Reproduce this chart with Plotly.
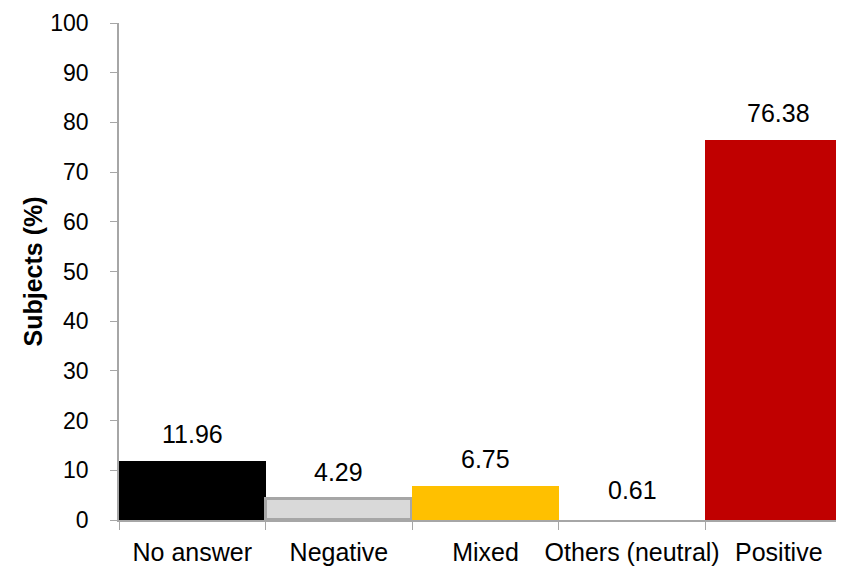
import plotly.graph_objects as go

categories = ["No answer", "Negative", "Mixed", "Others (neutral)", "Positive"]
values = [11.96, 4.29, 6.75, 0.61, 76.38]
labels = ["11.96", "4.29", "6.75", "0.61", "76.38"]
colors = ["#000000", "#D9D9D9", "#FFC000", "#FFFFFF", "#C00000"]
line_colors = ["#000000", "#A6A6A6", "#FFC000", "#FFFFFF", "#C00000"]
line_widths = [0, 3, 0, 0, 0]

FONT = "Liberation Sans, Arial, sans-serif"

fig = go.Figure()
fig.add_trace(go.Bar(
    x=categories, y=values,
    marker=dict(color=colors, line=dict(color=line_colors, width=line_widths)),
    showlegend=False, hoverinfo="skip",
))

for c, v, t in zip(categories, values, labels):
    fig.add_annotation(x=c, y=v, text=t, showarrow=False, yanchor="bottom",
                       yshift=11, font=dict(family=FONT, size=25, color="#000000"))

fig.update_layout(
    width=836, height=558,
    margin=dict(l=111, r=0, t=15, b=46),
    paper_bgcolor="white", plot_bgcolor="white",
    bargap=0,
    font=dict(family=FONT, color="#000000"),
    xaxis=dict(
        type="category", range=[-0.5, 4.445], automargin=False, tickangle=0,
        showline=True, linecolor="#A6A6A6", linewidth=1.5,
        ticks="outside", ticklen=8, tickcolor="#A6A6A6", tickson="boundaries",
        ticklabelstandoff=9,
        tickfont=dict(family=FONT, size=25, color="#000000"),
        showgrid=False, zeroline=False,
    ),
    yaxis=dict(
        range=[0, 100], dtick=10, tick0=0, automargin=False,
        showline=True, linecolor="#A6A6A6", linewidth=1.5,
        ticks="outside", ticklen=7, tickcolor="#A6A6A6",
        ticklabelstandoff=17,
        tickfont=dict(family=FONT, size=23, color="#000000"),
        showgrid=False, zeroline=False,
        title=dict(text="<b>Subjects (%)</b>", font=dict(family=FONT, size=25, color="#000000"), standoff=1),
    ),
)

fig.write_html("out.html")
